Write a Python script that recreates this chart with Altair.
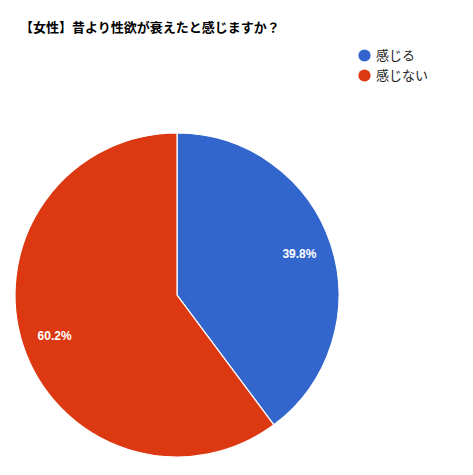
import altair as alt
import pandas as pd

categories = ["感じる", "感じない"]
values = [39.8, 60.2]
colors = ["#3366cc", "#dc3912"]
title_text = "【女性】昔より性欲が衰えたと感じますか？"

df = pd.DataFrame({
    "cat": categories,
    "value": values,
    "order": list(range(len(categories))),
    "label": [f"{v:.1f}%" for v in values],
})

FONT = "Liberation Sans, Arial, Noto Sans CJK JP"
CX, CY, R = 169, 287, 162

base = alt.Chart(df).encode(
    theta=alt.Theta("value:Q", stack=True),
    order=alt.Order("order:Q"),
)

pie = base.mark_arc(stroke="white", strokeWidth=1.2).encode(
    x=alt.value(CX),
    y=alt.value(CY),
    radius=alt.value(R),
    color=alt.Color(
        "cat:N",
        scale=alt.Scale(domain=categories, range=colors),
        sort=categories,
        legend=alt.Legend(
            title=None,
            orient="none",
            legendX=350,
            legendY=41,
            symbolType="circle",
            symbolSize=150,
            symbolStrokeWidth=0,
            labelFont=FONT,
            labelFontSize=13,
            labelColor="#222222",
            rowPadding=6,
            labelOffset=5,
        ),
    ),
)

labels = base.mark_text(
    font=FONT, fontSize=12, fontWeight="bold", color="white"
).encode(
    x=alt.value(CX),
    y=alt.value(CY),
    radius=alt.value(129),
    text="label:N",
)

title = alt.Chart(pd.DataFrame({"t": [title_text]})).mark_text(
    font=FONT, fontSize=13, fontWeight="bold", color="#000000", align="left", baseline="middle"
).encode(x=alt.value(12), y=alt.value(20), text="t:N")

chart = alt.layer(pie, labels, title).properties(
    width=457, height=459,
    autosize=alt.AutoSizeParams(type="none"),
    padding=0,
).configure_view(stroke=None)

chart.save("out.html", embed_options={"renderer": "svg", "actions": False})
